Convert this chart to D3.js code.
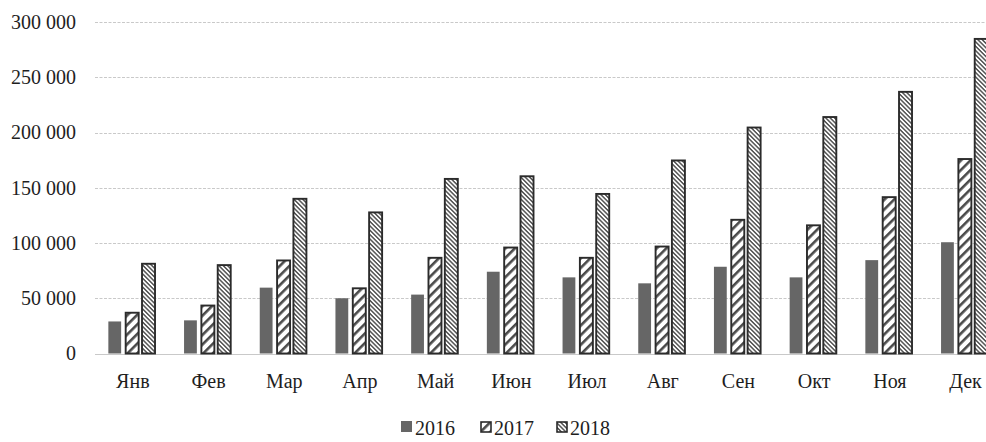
<!DOCTYPE html>
<html>
<head>
<meta charset="utf-8">
<script src="https://cdn.jsdelivr.net/npm/d3@7"></script>
<style>
  html, body { margin: 0; padding: 0; background: #fff; }
  svg { display: block; }
</style>
</head>
<body>
<svg id="chart" width="986" height="442"></svg>
<script>
// Monthly values by year
const months = ["Янв", "Фев", "Мар", "Апр", "Май", "Июн", "Июл", "Авг", "Сен", "Окт", "Ноя", "Дек"];
const years = ["2016", "2017", "2018"];
const values2016 = [29000, 30000, 59600, 50000, 53300, 74000, 68900, 63500, 78500, 68900, 84500, 100700];
const values2017 = [36900, 43400, 84200, 59000, 86600, 95900, 86600, 96800, 121000, 116000, 141500, 176000];
const values2018 = [81200, 80000, 140000, 127700, 158000, 160400, 144400, 174700, 204500, 214000, 236800, 284700];
const yTicks = [0, 50000, 100000, 150000, 200000, 250000, 300000];

const seriesValues = { "2016": values2016, "2017": values2017, "2018": values2018 };
const rows = months.map((m, i) => ({ month: m, values: years.map(y => ({ year: y, value: seriesValues[y][i] })) }));

const FONT = '"Liberation Serif", "Times New Roman", "DejaVu Serif", serif';
const TEXT_COLOR = "#1e1e1e";

const svg = d3.select("#chart");
const W = 986;

const x0 = d3.scaleBand().domain(months).range([95, 1003.4]).paddingInner(0).paddingOuter(0);
const x1 = d3.scaleBand().domain(years).range([-24.5, 24.5]).padding(0);
const y = d3.scaleLinear().domain([0, 300000]).range([353.5, 22]);

// Fill patterns
const defs = svg.append("defs");
const p17 = defs.append("pattern")
  .attr("id", "hatch2017").attr("patternUnits", "userSpaceOnUse")
  .attr("width", 6.8).attr("height", 6.8)
  .attr("patternTransform", "rotate(-45)");
p17.append("rect").attr("width", 6.8).attr("height", 6.8).attr("fill", "#fff");
p17.append("rect").attr("width", 6.8).attr("height", 2.6).attr("fill", "#4a4a4a");

const p18 = defs.append("pattern")
  .attr("id", "hatch2018").attr("patternUnits", "userSpaceOnUse")
  .attr("width", 3.1).attr("height", 3.1)
  .attr("patternTransform", "rotate(45)");
p18.append("rect").attr("width", 3.1).attr("height", 3.1).attr("fill", "#fff");
p18.append("rect").attr("width", 3.1).attr("height", 1.5).attr("fill", "#555");

const fills = { "2016": "#666666", "2017": "url(#hatch2017)", "2018": "url(#hatch2018)" };
const strokes = { "2016": "none", "2017": "#2b2b2b", "2018": "#2b2b2b" };

// Gridlines
svg.append("g").selectAll("line").data(yTicks).join("line")
  .attr("x1", 95).attr("x2", W)
  .attr("y1", d => Math.round(y(d)) + 0.5).attr("y2", d => Math.round(y(d)) + 0.5)
  .attr("stroke", "#c9c9c9").attr("stroke-width", 1.2)
  .attr("stroke-dasharray", d => d === 0 ? null : "3,1.5");

// Y axis labels
const yAxis = d3.axisLeft(y).tickValues(yTicks).tickSize(0).tickPadding(0)
  .tickFormat(d => d3.format(",")(d).replace(/,/g, " "));
const gy = svg.append("g").attr("transform", "translate(76,0)").call(yAxis);
gy.attr("font-family", null).attr("font-size", null);
gy.select(".domain").remove();
gy.selectAll("text")
  .style("font-family", FONT).style("font-size", "20px").style("fill", TEXT_COLOR);

// Bars
const groups = svg.append("g").selectAll("g").data(rows).join("g")
  .attr("transform", d => `translate(${x0(d.month) + x0.bandwidth() / 2},0)`);
groups.selectAll("rect").data(d => d.values).join("rect")
  .attr("x", d => x1(d.year) + (d.year === "2016" ? 0 : 1))
  .attr("width", d => d.year === "2016" ? 12.8 : 13)
  .attr("y", d => y(d.value))
  .attr("height", d => y(0) - y(d.value))
  .attr("fill", d => fills[d.year])
  .attr("stroke", d => strokes[d.year])
  .attr("stroke-width", 1.9);

// X axis labels
const xAxis = d3.axisBottom(x0).tickSize(0).tickPadding(0);
const gx = svg.append("g").attr("transform", "translate(0,372)").call(xAxis);
gx.attr("font-family", null).attr("font-size", null);
gx.select(".domain").remove();
gx.selectAll("text")
  .style("font-family", FONT).style("font-size", "20px").style("fill", TEXT_COLOR)
  .attr("dy", "0.8em");

// Legend
const legendX = [401, 480, 556];
const legend = svg.append("g").selectAll("g").data(years).join("g")
  .attr("transform", (d, i) => `translate(${legendX[i]},421)`);
legend.append("rect")
  .attr("width", d => d === "2016" ? 11 : 10).attr("height", d => d === "2016" ? 11 : 10)
  .attr("x", d => d === "2016" ? 0 : 1).attr("y", d => d === "2016" ? 0 : 1)
  .attr("fill", d => fills[d]).attr("stroke", d => strokes[d]).attr("stroke-width", 1.6);
legend.append("text")
  .attr("x", 14).attr("y", 14)
  .style("font-family", FONT).style("font-size", "20px").style("fill", TEXT_COLOR)
  .text(d => d);
</script>
</body>
</html>
